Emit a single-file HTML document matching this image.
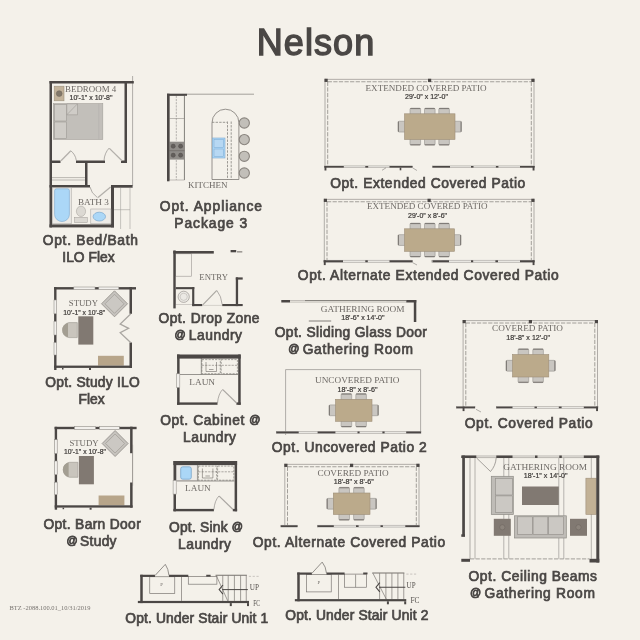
<!DOCTYPE html>
<html lang="en">
<head>
<meta charset="utf-8">
<title>Nelson</title>
<style>
html,body{margin:0;padding:0;}
body{width:640px;height:640px;overflow:hidden;background:#f4f1ea;position:relative;font-family:"Liberation Sans",sans-serif;}
#sheet{position:absolute;left:0;top:0;width:640px;height:640px;will-change:transform;}
#plans{position:absolute;left:0;top:0;width:640px;height:640px;}
.at{font-size:11px;line-height:0;vertical-align:2px;margin-right:-2px;}
.lb{position:absolute;white-space:nowrap;font-weight:normal;-webkit-text-stroke:0.7px currentColor;color:#4a4745;font-family:"Liberation Sans",sans-serif;}
.lb.ttl{-webkit-text-stroke:1.4px currentColor;}
.at{-webkit-text-stroke:0.8px currentColor;}
</style>
</head>
<body>
<div id="sheet">
<svg id="plans" width="640" height="640" viewBox="0 0 640 640">
<line x1="132.60" y1="76.00" x2="132.60" y2="186.00" stroke="#827e7a" stroke-width="0.6"/>
<line x1="114.00" y1="187.50" x2="132.60" y2="187.50" stroke="#827e7a" stroke-width="0.6"/>
<line x1="120.60" y1="188.00" x2="120.60" y2="229.00" stroke="#a5a19d" stroke-width="0.6"/>
<line x1="130.00" y1="188.00" x2="130.00" y2="229.00" stroke="#a5a19d" stroke-width="0.6"/>
<line x1="114.00" y1="209.70" x2="130.00" y2="209.70" stroke="#a5a19d" stroke-width="0.6"/>
<line x1="52.00" y1="177.60" x2="85.00" y2="177.60" stroke="#827e7a" stroke-width="0.5"/>
<line x1="52.00" y1="180.00" x2="85.00" y2="180.00" stroke="#827e7a" stroke-width="0.5"/>
<rect x="54.20" y="86.20" width="9.80" height="14.60" fill="#c3b39b" stroke="#9c8f7c" stroke-width="0.6" />
<circle cx="59.20" cy="93.60" r="2.90" fill="#82786a" stroke="#6e665a" stroke-width="0.5"/>
<rect x="53.30" y="103.60" width="49.50" height="35.90" fill="#c2bfba" stroke="#a3a09b" stroke-width="0.6" />
<rect x="54.60" y="104.60" width="11.70" height="16.40" fill="#cfccc7" stroke="#9d9a95" stroke-width="0.6" />
<rect x="54.60" y="122.00" width="11.70" height="16.50" fill="#cfccc7" stroke="#9d9a95" stroke-width="0.6" />
<path d="M66.8 103.8 L77.5 103.8 L77.5 114.8 L66.8 114.8 Z" fill="#cfccc7" stroke="#9d9a95" stroke-width="0.6" />
<line x1="66.80" y1="114.80" x2="77.50" y2="103.80" stroke="#9d9a95" stroke-width="0.6"/>
<line x1="98.80" y1="103.60" x2="98.80" y2="139.50" stroke="#b0ada8" stroke-width="0.5"/>
<rect x="49.50" y="81.00" width="84.30" height="2.50" fill="#4b4745" />
<rect x="49.50" y="81.00" width="2.50" height="146.40" fill="#4b4745" />
<rect x="124.50" y="81.00" width="2.50" height="82.00" fill="#4b4745" />
<rect x="52.00" y="160.50" width="8.50" height="2.50" fill="#4b4745" />
<rect x="76.00" y="160.50" width="29.00" height="2.50" fill="#4b4745" />
<rect x="121.00" y="160.50" width="6.00" height="2.50" fill="#4b4745" />
<rect x="85.00" y="161.50" width="2.50" height="24.50" fill="#4b4745" />
<rect x="49.50" y="185.00" width="40.50" height="2.50" fill="#4b4745" />
<rect x="111.00" y="185.00" width="21.60" height="2.50" fill="#4b4745" />
<rect x="111.00" y="185.00" width="3.00" height="42.40" fill="#4b4745" />
<rect x="49.50" y="224.40" width="64.50" height="3.00" fill="#4b4745" />
<line x1="61.00" y1="160.80" x2="70.60" y2="151.00" stroke="#b3b0ab" stroke-width="1.3"/>
<path d="M70.6 150.6 Q75.5 154.5 76.3 160.5" fill="none" stroke="#827e7a" stroke-width="0.6" />
<line x1="122.00" y1="160.80" x2="109.40" y2="148.40" stroke="#b3b0ab" stroke-width="1.3"/>
<path d="M109.2 148 Q104.5 153 104 160.5" fill="none" stroke="#827e7a" stroke-width="0.6" />
<line x1="110.60" y1="187.00" x2="98.00" y2="197.40" stroke="#b3b0ab" stroke-width="1.3"/>
<path d="M97.5 197.7 Q91 193 90 187" fill="none" stroke="#827e7a" stroke-width="0.6" />
<rect x="52.60" y="187.80" width="18.60" height="36.00" fill="#eceae6" stroke="#a09c97" stroke-width="0.5" />
<path d="M54.6 190.6 Q54.6 188.8 56.4 188.8 L67.6 188.8 Q69.4 188.8 69.4 190.6 L69.4 214.5 A7.4 7 0 0 1 54.6 214.5 Z" fill="#abd7f7" stroke="#7aa7cf" stroke-width="0.6" />
<rect x="74.60" y="217.30" width="12.70" height="5.30" fill="#dcd9d3" stroke="#a09c97" stroke-width="0.5" />
<ellipse cx="81.00" cy="211.30" rx="4.60" ry="5.20" fill="#dcd9d3" stroke="#a09c97" stroke-width="0.5"/>
<rect x="90.80" y="209.00" width="20.20" height="14.80" fill="#eceae6" stroke="#a09c97" stroke-width="0.5" />
<ellipse cx="99.30" cy="216.60" rx="6.20" ry="4.40" fill="#abd7f7" stroke="#7aa7cf" stroke-width="0.7"/>
<text x="65.00" y="92.40" font-family="'Liberation Serif',serif" font-size="9" fill="#6d6965" textLength="51.30" lengthAdjust="spacingAndGlyphs">BEDROOM 4</text>
<text x="69.50" y="100.40" font-family="'Liberation Sans',sans-serif" font-size="7.0" fill="#3d3a38" stroke="#3d3a38" stroke-width="0.22" textLength="43.00" lengthAdjust="spacingAndGlyphs">10'-1" x 10'-8"</text>
<text x="78.00" y="205.40" font-family="'Liberation Serif',serif" font-size="9" fill="#6d6965" textLength="30.80" lengthAdjust="spacingAndGlyphs">BATH 3</text>
<line x1="187.00" y1="94.20" x2="254.00" y2="94.20" stroke="#827e7a" stroke-width="0.7"/>
<rect x="169.50" y="95.70" width="15.00" height="84.30" fill="none" stroke="#8c8884" stroke-width="0.5" />
<line x1="184.40" y1="95.70" x2="184.40" y2="180.00" stroke="#6f6b67" stroke-width="0.7"/>
<line x1="176.30" y1="95.70" x2="176.30" y2="141.00" stroke="#8c8884" stroke-width="0.6" stroke-dasharray="2.2 1"/>
<line x1="169.50" y1="118.50" x2="184.50" y2="118.50" stroke="#827e7a" stroke-width="0.5"/>
<line x1="176.30" y1="160.00" x2="176.30" y2="180.00" stroke="#8c8884" stroke-width="0.6" stroke-dasharray="2.2 1"/>
<rect x="169.50" y="141.70" width="15.00" height="17.90" fill="#8f8c88" />
<circle cx="173.20" cy="146.20" r="2.10" fill="#625e5b" stroke="#4b4745" stroke-width="0.4"/>
<circle cx="180.60" cy="146.20" r="2.10" fill="#625e5b" stroke="#4b4745" stroke-width="0.4"/>
<circle cx="173.20" cy="155.20" r="2.10" fill="#625e5b" stroke="#4b4745" stroke-width="0.4"/>
<circle cx="180.60" cy="155.20" r="2.10" fill="#625e5b" stroke="#4b4745" stroke-width="0.4"/>
<line x1="169.50" y1="150.70" x2="184.50" y2="150.70" stroke="#5e5a57" stroke-width="0.5"/>
<rect x="167.00" y="93.70" width="20.00" height="2.10" fill="#4b4745" />
<rect x="167.00" y="93.70" width="2.50" height="87.60" fill="#4b4745" />
<path d="M212 179.5 L212 122.8 A13.45 13.6 0 0 1 238.9 122.8 L238.9 179.5 Z" fill="none" stroke="#75716d" stroke-width="0.75" />
<line x1="212.00" y1="122.30" x2="227.00" y2="122.30" stroke="#76726e" stroke-width="0.7" stroke-dasharray="2.4 1.2"/>
<line x1="227.50" y1="121.50" x2="227.50" y2="179.50" stroke="#76726e" stroke-width="0.7" stroke-dasharray="2.4 1.2"/>
<line x1="231.20" y1="121.50" x2="231.20" y2="179.50" stroke="#76726e" stroke-width="0.7" stroke-dasharray="2.4 1.2"/>
<rect x="212.40" y="138.00" width="12.60" height="20.00" fill="#abd7f7" stroke="#7fa9cf" stroke-width="0.6" />
<rect x="214.00" y="139.70" width="9.30" height="7.60" fill="#b7d8f3" stroke="#7fa9cf" stroke-width="0.5" />
<rect x="214.00" y="149.00" width="9.30" height="7.50" fill="#b7d8f3" stroke="#7fa9cf" stroke-width="0.5" />
<circle cx="244.30" cy="123.00" r="5.10" fill="#c2bfb9" stroke="#8a857f" stroke-width="1.1"/>
<circle cx="244.30" cy="139.60" r="5.10" fill="#c2bfb9" stroke="#8a857f" stroke-width="1.1"/>
<circle cx="244.30" cy="156.30" r="5.10" fill="#c2bfb9" stroke="#8a857f" stroke-width="1.1"/>
<circle cx="244.30" cy="173.00" r="5.10" fill="#c2bfb9" stroke="#8a857f" stroke-width="1.1"/>
<text x="188.00" y="187.80" font-family="'Liberation Serif',serif" font-size="8.6" fill="#6d6965" textLength="39.60" lengthAdjust="spacingAndGlyphs">KITCHEN</text>
<path d="M114.5 290.8 L127.5 303.8 L114.5 316.8 L101.5 303.8 Z" fill="#c6c3be" stroke="#8f8c87" stroke-width="0.8" />
<path d="M114.5 294.3 L124.0 303.8 L114.5 313.3 L105.0 303.8 Z" fill="#cbc8c3" stroke="#98958f" stroke-width="0.6" />
<rect x="78.30" y="316.30" width="15.00" height="28.30" fill="#817972" />
<path d="M77.3 322.6 L69 322.6 A7.6 7.6 0 0 0 69 337.6 L77.3 337.6 Z" fill="#c9c5bd" stroke="#9b9790" stroke-width="0.6" />
<path d="M68 322.9 A7.4 7.4 0 0 0 68 337.3 Z" fill="#a39e92" stroke="none" stroke-width="0" />
<rect x="98.00" y="355.80" width="25.80" height="9.80" fill="#b7a58a" />
<rect x="54.00" y="287.10" width="82.00" height="2.40" fill="#4b4745" />
<rect x="54.10" y="287.10" width="2.40" height="82.90" fill="#4b4745" />
<rect x="54.10" y="365.60" width="77.90" height="2.30" fill="#4b4745" />
<rect x="89.00" y="368.00" width="2.00" height="2.00" fill="#4b4745" />
<rect x="62.00" y="368.00" width="1.50" height="1.50" fill="#4b4745" />
<rect x="73.80" y="286.60" width="21.20" height="3.30" fill="#f2f0ec" />
<rect x="73.80" y="287.00" width="21.20" height="2.60" fill="none" stroke="#8f8c87" stroke-width="0.55" />
<rect x="98.80" y="286.60" width="20.00" height="3.30" fill="#f2f0ec" />
<rect x="98.80" y="287.00" width="20.00" height="2.60" fill="none" stroke="#8f8c87" stroke-width="0.55" />
<rect x="53.70" y="300.00" width="3.20" height="13.80" fill="#f2f0ec" />
<rect x="54.00" y="300.00" width="2.60" height="13.80" fill="none" stroke="#8f8c87" stroke-width="0.55" />
<rect x="53.70" y="321.30" width="3.20" height="13.70" fill="#f2f0ec" />
<rect x="54.00" y="321.30" width="2.60" height="13.70" fill="none" stroke="#8f8c87" stroke-width="0.55" />
<rect x="53.70" y="342.50" width="3.20" height="12.50" fill="#f2f0ec" />
<rect x="54.00" y="342.50" width="2.60" height="12.50" fill="none" stroke="#8f8c87" stroke-width="0.55" />
<rect x="129.50" y="287.00" width="2.50" height="26.80" fill="#4b4745" />
<rect x="129.50" y="342.50" width="2.50" height="25.50" fill="#4b4745" />
<path d="M130.6 314 L120.2 324 L128.6 328.3 L120.2 332.6 L130.6 342.5" fill="none" stroke="#a9a6a1" stroke-width="1.3" stroke-linejoin="miter"/>
<text x="68.80" y="306.30" font-family="'Liberation Serif',serif" font-size="9" fill="#6d6965" textLength="29.20" lengthAdjust="spacingAndGlyphs">STUDY</text>
<text x="63.30" y="314.70" font-family="'Liberation Sans',sans-serif" font-size="7.0" fill="#3d3a38" stroke="#3d3a38" stroke-width="0.22" textLength="42.00" lengthAdjust="spacingAndGlyphs">10'-1" x 10'-8"</text>
<path d="M115.1 430.5 L128.1 443.5 L115.1 456.5 L102.1 443.5 Z" fill="#c6c3be" stroke="#8f8c87" stroke-width="0.8" />
<path d="M115.1 434.0 L124.6 443.5 L115.1 453.0 L105.6 443.5 Z" fill="#cbc8c3" stroke="#98958f" stroke-width="0.6" />
<rect x="78.90" y="456.00" width="15.00" height="28.30" fill="#817972" />
<path d="M77.89999999999999 462.3 L69.6 462.3 A7.6 7.6 0 0 0 69.6 477.3 L77.89999999999999 477.3 Z" fill="#c9c5bd" stroke="#9b9790" stroke-width="0.6" />
<path d="M68.6 462.59999999999997 A7.4 7.4 0 0 0 68.6 477.0 Z" fill="#a39e92" stroke="none" stroke-width="0" />
<rect x="98.60" y="495.50" width="25.80" height="9.80" fill="#b7a58a" />
<rect x="54.60" y="426.80" width="82.00" height="2.40" fill="#4b4745" />
<rect x="54.70" y="426.80" width="2.40" height="82.90" fill="#4b4745" />
<rect x="54.70" y="505.30" width="77.90" height="2.30" fill="#4b4745" />
<rect x="89.60" y="507.70" width="2.00" height="2.00" fill="#4b4745" />
<rect x="62.60" y="507.70" width="1.50" height="1.50" fill="#4b4745" />
<rect x="74.40" y="426.30" width="21.20" height="3.30" fill="#f2f0ec" />
<rect x="74.40" y="426.70" width="21.20" height="2.60" fill="none" stroke="#8f8c87" stroke-width="0.55" />
<rect x="99.40" y="426.30" width="20.00" height="3.30" fill="#f2f0ec" />
<rect x="99.40" y="426.70" width="20.00" height="2.60" fill="none" stroke="#8f8c87" stroke-width="0.55" />
<rect x="54.30" y="439.70" width="3.20" height="13.80" fill="#f2f0ec" />
<rect x="54.60" y="439.70" width="2.60" height="13.80" fill="none" stroke="#8f8c87" stroke-width="0.55" />
<rect x="54.30" y="461.00" width="3.20" height="13.70" fill="#f2f0ec" />
<rect x="54.60" y="461.00" width="2.60" height="13.70" fill="none" stroke="#8f8c87" stroke-width="0.55" />
<rect x="54.30" y="482.20" width="3.20" height="12.50" fill="#f2f0ec" />
<rect x="54.60" y="482.20" width="2.60" height="12.50" fill="none" stroke="#8f8c87" stroke-width="0.55" />
<rect x="130.10" y="426.70" width="2.50" height="26.50" fill="#4b4745" />
<rect x="130.10" y="482.50" width="2.50" height="25.20" fill="#4b4745" />
<line x1="132.60" y1="444.70" x2="132.60" y2="485.70" stroke="#827e7a" stroke-width="0.8"/>
<text x="69.40" y="446.00" font-family="'Liberation Serif',serif" font-size="9" fill="#6d6965" textLength="29.20" lengthAdjust="spacingAndGlyphs">STUDY</text>
<text x="63.90" y="454.40" font-family="'Liberation Sans',sans-serif" font-size="7.0" fill="#3d3a38" stroke="#3d3a38" stroke-width="0.22" textLength="42.00" lengthAdjust="spacingAndGlyphs">10'-1" x 10'-8"</text>
<rect x="175.70" y="253.80" width="15.90" height="22.40" fill="none" stroke="#9a9692" stroke-width="0.6" />
<rect x="175.70" y="289.00" width="16.80" height="15.60" fill="none" stroke="#a9a6a1" stroke-width="0.5" />
<circle cx="183.70" cy="296.80" r="5.60" fill="#ebe9e4" stroke="#8b8783" stroke-width="0.6"/>
<circle cx="183.70" cy="296.80" r="3.60" fill="none" stroke="#a9a6a1" stroke-width="0.45"/>
<rect x="173.30" y="250.40" width="2.40" height="58.00" fill="#4b4745" />
<rect x="173.30" y="251.00" width="40.50" height="2.60" fill="#4b4745" />
<rect x="230.60" y="250.00" width="5.60" height="2.30" fill="#4b4745" />
<rect x="237.00" y="251.20" width="5.30" height="1.30" fill="#8a8682" />
<rect x="235.80" y="277.40" width="2.30" height="28.70" fill="#4b4745" />
<rect x="235.80" y="277.40" width="6.90" height="2.20" fill="#4b4745" />
<rect x="192.20" y="304.00" width="10.10" height="2.10" fill="#4b4745" />
<rect x="222.20" y="304.00" width="20.50" height="2.10" fill="#4b4745" />
<rect x="175.70" y="287.10" width="18.60" height="2.00" fill="#4b4745" />
<rect x="192.20" y="287.10" width="2.10" height="19.00" fill="#4b4745" />
<line x1="203.00" y1="304.60" x2="216.60" y2="290.60" stroke="#aaa7a2" stroke-width="1.2"/>
<path d="M216.8 290.4 Q221.4 296 222.2 304.6" fill="none" stroke="#827e7a" stroke-width="0.6" />
<line x1="202.50" y1="305.40" x2="222.20" y2="305.40" stroke="#b5b2ad" stroke-width="0.5"/>
<text x="199.30" y="280.00" font-family="'Liberation Serif',serif" font-size="8.6" fill="#6d6965" textLength="28.70" lengthAdjust="spacingAndGlyphs">ENTRY</text>
<line x1="180.00" y1="374.50" x2="238.00" y2="374.50" stroke="#6f6b67" stroke-width="0.7"/>
<line x1="201.30" y1="358.00" x2="201.30" y2="374.50" stroke="#6f6b67" stroke-width="0.7"/>
<rect x="201.90" y="359.60" width="18.40" height="14.10" fill="none" stroke="#6f6b67" stroke-width="0.6" stroke-dasharray="2.2 1.1"/>
<rect x="221.20" y="359.60" width="16.20" height="14.10" fill="none" stroke="#6f6b67" stroke-width="0.6" stroke-dasharray="2.2 1.1"/>
<line x1="201.90" y1="365.30" x2="237.40" y2="365.30" stroke="#6f6b67" stroke-width="0.55" stroke-dasharray="2.2 1.1"/>
<path d="M206 362 L206 371.5 L216.5 371.5 L216.5 362" fill="none" stroke="#6f6b67" stroke-width="0.6" />
<path d="M209 369.5 L213.5 369.5" fill="none" stroke="#6f6b67" stroke-width="0.6" />
<rect x="177.00" y="354.50" width="63.70" height="4.10" fill="#4b4745" />
<rect x="177.10" y="354.50" width="2.50" height="50.30" fill="#4b4745" />
<rect x="238.20" y="354.50" width="2.50" height="50.30" fill="#4b4745" />
<rect x="177.00" y="402.40" width="40.50" height="2.40" fill="#4b4745" />
<rect x="236.40" y="402.40" width="4.30" height="2.40" fill="#4b4745" />
<rect x="176.40" y="373.80" width="3.60" height="13.80" fill="#f2f0ec" />
<rect x="176.70" y="373.80" width="3.10" height="13.80" fill="none" stroke="#8f8c87" stroke-width="0.55" />
<line x1="222.80" y1="389.60" x2="236.60" y2="403.00" stroke="#aaa7a2" stroke-width="1.2"/>
<path d="M217.5 403 Q218.3 394 222.6 389.4" fill="none" stroke="#827e7a" stroke-width="0.6" />
<text x="189.30" y="384.50" font-family="'Liberation Serif',serif" font-size="9" fill="#6d6965" textLength="25.70" lengthAdjust="spacingAndGlyphs">LAUN</text>
<line x1="176.40" y1="481.00" x2="234.40" y2="481.00" stroke="#6f6b67" stroke-width="0.7"/>
<line x1="197.70" y1="464.50" x2="197.70" y2="481.00" stroke="#6f6b67" stroke-width="0.7"/>
<rect x="198.30" y="466.10" width="18.40" height="14.10" fill="none" stroke="#6f6b67" stroke-width="0.6" stroke-dasharray="2.2 1.1"/>
<rect x="217.60" y="466.10" width="16.20" height="14.10" fill="none" stroke="#6f6b67" stroke-width="0.6" stroke-dasharray="2.2 1.1"/>
<line x1="198.30" y1="471.80" x2="233.80" y2="471.80" stroke="#6f6b67" stroke-width="0.55" stroke-dasharray="2.2 1.1"/>
<path d="M202.4 468.5 L202.4 478.0 L212.9 478.0 L212.9 468.5" fill="none" stroke="#6f6b67" stroke-width="0.6" />
<path d="M205.4 476.0 L209.9 476.0" fill="none" stroke="#6f6b67" stroke-width="0.6" />
<rect x="176.70" y="464.80" width="20.50" height="15.70" fill="#eceae6" stroke="#8b8783" stroke-width="0.5" />
<rect x="180.70" y="466.80" width="10.6" height="12.4" rx="2" ry="2" fill="#abd7f7" stroke="#6f9dc6" stroke-width="0.7"/>
<rect x="173.40" y="461.00" width="63.70" height="4.10" fill="#4b4745" />
<rect x="173.50" y="461.00" width="2.50" height="50.30" fill="#4b4745" />
<rect x="234.60" y="461.00" width="2.50" height="50.30" fill="#4b4745" />
<rect x="173.40" y="508.90" width="40.50" height="2.40" fill="#4b4745" />
<rect x="232.80" y="508.90" width="4.30" height="2.40" fill="#4b4745" />
<rect x="172.80" y="480.30" width="3.60" height="13.80" fill="#f2f0ec" />
<rect x="173.10" y="480.30" width="3.10" height="13.80" fill="none" stroke="#8f8c87" stroke-width="0.55" />
<line x1="219.20" y1="496.10" x2="233.00" y2="509.50" stroke="#aaa7a2" stroke-width="1.2"/>
<path d="M213.9 509.5 Q214.70000000000002 500.5 219.0 495.9" fill="none" stroke="#827e7a" stroke-width="0.6" />
<text x="185.10" y="491.00" font-family="'Liberation Serif',serif" font-size="9" fill="#6d6965" textLength="25.70" lengthAdjust="spacingAndGlyphs">LAUN</text>
<rect x="149.75" y="576.75" width="25.00" height="16.75" fill="none" stroke="#7b7773" stroke-width="0.7" />
<line x1="181.50" y1="576.75" x2="181.50" y2="600.90" stroke="#7b7773" stroke-width="0.7"/>
<rect x="188.30" y="576.35" width="28.60" height="7.85" fill="none" stroke="#7b7773" stroke-width="0.7" />
<line x1="215.60" y1="575.25" x2="246.85" y2="575.25" stroke="#66625f" stroke-width="0.9"/>
<line x1="216.20" y1="575.35" x2="227.75" y2="600.90" stroke="#7b7773" stroke-width="0.7"/>
<line x1="222.75" y1="575.35" x2="222.75" y2="600.90" stroke="#7b7773" stroke-width="0.7"/>
<line x1="228.20" y1="575.35" x2="228.20" y2="600.90" stroke="#7b7773" stroke-width="0.7"/>
<line x1="234.40" y1="575.35" x2="234.40" y2="600.90" stroke="#7b7773" stroke-width="0.7"/>
<line x1="240.60" y1="575.35" x2="240.60" y2="600.90" stroke="#7b7773" stroke-width="0.7"/>
<line x1="246.25" y1="575.35" x2="246.25" y2="600.90" stroke="#7b7773" stroke-width="0.7"/>
<line x1="222.15" y1="589.60" x2="247.85" y2="589.60" stroke="#4b4745" stroke-width="1.0"/>
<path d="M222.95 585.0 L219.15 589.6 L222.95 594.2" fill="none" stroke="#4b4745" stroke-width="1.1" />
<line x1="248.85" y1="576.35" x2="259.25" y2="576.35" stroke="#9b9793" stroke-width="0.5" stroke-dasharray="2.2 1.6"/>
<rect x="140.25" y="574.75" width="2.50" height="28.35" fill="#4b4745" />
<rect x="140.25" y="574.75" width="14.75" height="2.20" fill="#4b4745" />
<rect x="169.00" y="574.75" width="19.30" height="2.20" fill="#4b4745" />
<rect x="206.25" y="574.75" width="4.35" height="1.90" fill="#4b4745" />
<rect x="137.85" y="600.90" width="111.15" height="2.20" fill="#4b4745" />
<rect x="229.80" y="603.10" width="2.00" height="3.00" fill="#4b4745" />
<rect x="247.00" y="603.10" width="2.00" height="3.00" fill="#4b4745" />
<path d="M155 575.55 L165.3 564.35 Q168.4 568.75 169 575.55" fill="none" stroke="#7b7773" stroke-width="0.8" />
<text x="161.60" y="585.60" font-family="'Liberation Serif',serif" font-size="5" fill="#6d6965" text-anchor="middle">P</text>
<text x="249.80" y="590.00" font-family="'Liberation Serif',serif" font-size="7.6" fill="#55514e" textLength="9.20" lengthAdjust="spacingAndGlyphs">UP</text>
<text x="253.20" y="605.60" font-family="'Liberation Serif',serif" font-size="7.6" fill="#55514e" textLength="6.80" lengthAdjust="spacingAndGlyphs">FC</text>
<rect x="306.60" y="574.50" width="24.65" height="17.40" fill="none" stroke="#7b7773" stroke-width="0.7" />
<line x1="338.50" y1="574.50" x2="338.50" y2="599.10" stroke="#7b7773" stroke-width="0.7"/>
<rect x="344.60" y="574.10" width="22.00" height="13.15" fill="none" stroke="#7b7773" stroke-width="0.7" />
<line x1="355.60" y1="574.50" x2="355.60" y2="587.25" stroke="#7b7773" stroke-width="0.7"/>
<line x1="372.25" y1="573.00" x2="404.35" y2="573.00" stroke="#66625f" stroke-width="0.9"/>
<line x1="372.85" y1="573.10" x2="386.25" y2="599.10" stroke="#7b7773" stroke-width="0.7"/>
<line x1="379.60" y1="573.10" x2="379.60" y2="599.10" stroke="#7b7773" stroke-width="0.7"/>
<line x1="385.90" y1="573.10" x2="385.90" y2="599.10" stroke="#7b7773" stroke-width="0.7"/>
<line x1="391.90" y1="573.10" x2="391.90" y2="599.10" stroke="#7b7773" stroke-width="0.7"/>
<line x1="397.90" y1="573.10" x2="397.90" y2="599.10" stroke="#7b7773" stroke-width="0.7"/>
<line x1="403.75" y1="573.10" x2="403.75" y2="599.10" stroke="#7b7773" stroke-width="0.7"/>
<line x1="379.00" y1="587.25" x2="405.35" y2="587.25" stroke="#4b4745" stroke-width="1.0"/>
<path d="M379.8 582.65 L376.0 587.25 L379.8 591.85" fill="none" stroke="#4b4745" stroke-width="1.1" />
<line x1="406.35" y1="574.10" x2="416.75" y2="574.10" stroke="#9b9793" stroke-width="0.5" stroke-dasharray="2.2 1.6"/>
<rect x="297.25" y="572.50" width="2.50" height="28.80" fill="#4b4745" />
<rect x="297.25" y="572.50" width="14.65" height="2.20" fill="#4b4745" />
<rect x="326.50" y="572.50" width="18.10" height="2.20" fill="#4b4745" />
<rect x="363.20" y="572.50" width="4.30" height="1.90" fill="#4b4745" />
<rect x="294.85" y="599.10" width="111.40" height="2.20" fill="#4b4745" />
<rect x="386.90" y="601.30" width="2.00" height="3.00" fill="#4b4745" />
<rect x="404.20" y="601.30" width="2.00" height="3.00" fill="#4b4745" />
<path d="M311.9 573.3 L322.2 562.1 Q325.9 566.5 326.5 573.3" fill="none" stroke="#7b7773" stroke-width="0.8" />
<text x="319.00" y="584.20" font-family="'Liberation Serif',serif" font-size="5" fill="#6d6965" text-anchor="middle">P</text>
<text x="406.60" y="587.80" font-family="'Liberation Serif',serif" font-size="7.6" fill="#55514e" textLength="9.00" lengthAdjust="spacingAndGlyphs">UP</text>
<text x="410.40" y="603.10" font-family="'Liberation Serif',serif" font-size="7.6" fill="#55514e" textLength="9.00" lengthAdjust="spacingAndGlyphs">FC</text>
<line x1="325.00" y1="79.35" x2="534.00" y2="79.35" stroke="#827e7a" stroke-width="0.6"/>
<line x1="325.00" y1="78.75" x2="325.00" y2="166.00" stroke="#827e7a" stroke-width="0.6"/>
<line x1="534.00" y1="78.75" x2="534.00" y2="166.00" stroke="#827e7a" stroke-width="0.6"/>
<line x1="327.70" y1="81.75" x2="531.30" y2="81.75" stroke="#76726e" stroke-width="0.65" stroke-dasharray="4.2 1.4"/>
<line x1="327.70" y1="81.75" x2="327.70" y2="166.00" stroke="#76726e" stroke-width="0.65" stroke-dasharray="4.2 1.4"/>
<line x1="531.30" y1="81.75" x2="531.30" y2="166.00" stroke="#76726e" stroke-width="0.65" stroke-dasharray="4.2 1.4"/>
<rect x="324.50" y="78.75" width="3.20" height="3.20" fill="#4b4745" />
<rect x="428.00" y="78.75" width="3.20" height="3.20" fill="#4b4745" />
<rect x="531.30" y="78.75" width="3.20" height="3.20" fill="#4b4745" />
<rect x="324.50" y="165.90" width="88.00" height="1.80" fill="#e9e7e2" stroke="#9c9894" stroke-width="0.5" />
<rect x="432.30" y="165.90" width="102.20" height="1.80" fill="#e9e7e2" stroke="#9c9894" stroke-width="0.5" />
<rect x="324.50" y="166.00" width="19.30" height="1.60" fill="#4b4745" />
<rect x="389.50" y="166.00" width="23.00" height="1.60" fill="#4b4745" />
<rect x="432.50" y="166.00" width="17.50" height="1.60" fill="#4b4745" />
<rect x="520.00" y="166.00" width="14.50" height="1.60" fill="#4b4745" />
<rect x="365.30" y="166.00" width="2.90" height="1.60" fill="#4b4745" />
<rect x="471.00" y="166.00" width="2.50" height="1.60" fill="#4b4745" />
<rect x="495.90" y="166.00" width="2.50" height="1.60" fill="#4b4745" />
<rect x="324.50" y="166.00" width="1.90" height="4.50" fill="#4b4745" />
<rect x="532.60" y="166.00" width="1.90" height="4.50" fill="#4b4745" />
<rect x="399.70" y="167.60" width="1.60" height="2.70" fill="#4b4745" />
<line x1="382.00" y1="170.30" x2="386.00" y2="167.80" stroke="#827e7a" stroke-width="0.6"/>
<line x1="412.50" y1="167.80" x2="417.00" y2="170.50" stroke="#827e7a" stroke-width="0.6"/>
<rect x="410.00" y="108.20" width="10.6" height="8" rx="1.2" fill="#c9c6c1" stroke="#96938e" stroke-width="0.6"/>
<rect x="410.30" y="108.00" width="10.00" height="1.10" fill="#807c78" />
<rect x="410.00" y="137.10" width="10.6" height="8" rx="1.2" fill="#c9c6c1" stroke="#96938e" stroke-width="0.6"/>
<rect x="410.30" y="144.20" width="10.00" height="1.10" fill="#807c78" />
<rect x="424.50" y="108.20" width="10.6" height="8" rx="1.2" fill="#c9c6c1" stroke="#96938e" stroke-width="0.6"/>
<rect x="424.80" y="108.00" width="10.00" height="1.10" fill="#807c78" />
<rect x="424.50" y="137.10" width="10.6" height="8" rx="1.2" fill="#c9c6c1" stroke="#96938e" stroke-width="0.6"/>
<rect x="424.80" y="144.20" width="10.00" height="1.10" fill="#807c78" />
<rect x="438.80" y="108.20" width="10.6" height="8" rx="1.2" fill="#c9c6c1" stroke="#96938e" stroke-width="0.6"/>
<rect x="439.10" y="108.00" width="10.00" height="1.10" fill="#807c78" />
<rect x="438.80" y="137.10" width="10.6" height="8" rx="1.2" fill="#c9c6c1" stroke="#96938e" stroke-width="0.6"/>
<rect x="439.10" y="144.20" width="10.00" height="1.10" fill="#807c78" />
<rect x="398.10" y="121.25" width="8" height="10.8" rx="1.2" fill="#c9c6c1" stroke="#96938e" stroke-width="0.6"/>
<rect x="397.90" y="121.55" width="1.10" height="10.20" fill="#807c78" />
<rect x="453.40" y="121.25" width="8" height="10.8" rx="1.2" fill="#c9c6c1" stroke="#96938e" stroke-width="0.6"/>
<rect x="460.50" y="121.55" width="1.10" height="10.20" fill="#807c78" />
<rect x="404.50" y="113.80" width="50.50" height="25.70" fill="#bbaa8b" stroke="#9d8e78" stroke-width="0.6"/>
<text x="365.50" y="91.00" font-family="'Liberation Serif',serif" font-size="9" fill="#6d6965" textLength="121.00" lengthAdjust="spacingAndGlyphs">EXTENDED COVERED PATIO</text>
<text x="405.00" y="99.20" font-family="'Liberation Sans',sans-serif" font-size="7.0" fill="#3d3a38" stroke="#3d3a38" stroke-width="0.22" textLength="43.00" lengthAdjust="spacingAndGlyphs">29'-0" x 12'-0"</text>
<line x1="324.30" y1="199.35" x2="534.00" y2="199.35" stroke="#827e7a" stroke-width="0.6"/>
<line x1="324.30" y1="198.75" x2="324.30" y2="260.30" stroke="#827e7a" stroke-width="0.6"/>
<line x1="534.00" y1="198.75" x2="534.00" y2="260.30" stroke="#827e7a" stroke-width="0.6"/>
<line x1="327.00" y1="201.75" x2="531.30" y2="201.75" stroke="#76726e" stroke-width="0.65" stroke-dasharray="4.2 1.4"/>
<line x1="327.00" y1="201.75" x2="327.00" y2="260.30" stroke="#76726e" stroke-width="0.65" stroke-dasharray="4.2 1.4"/>
<line x1="531.30" y1="201.75" x2="531.30" y2="260.30" stroke="#76726e" stroke-width="0.65" stroke-dasharray="4.2 1.4"/>
<rect x="323.80" y="198.75" width="3.20" height="3.20" fill="#4b4745" />
<rect x="427.50" y="198.75" width="3.20" height="3.20" fill="#4b4745" />
<rect x="531.30" y="198.75" width="3.20" height="3.20" fill="#4b4745" />
<rect x="323.80" y="260.20" width="88.70" height="2.10" fill="#e9e7e2" stroke="#9c9894" stroke-width="0.5" />
<rect x="431.80" y="260.20" width="102.70" height="2.10" fill="#e9e7e2" stroke="#9c9894" stroke-width="0.5" />
<rect x="323.80" y="260.30" width="19.20" height="1.90" fill="#4b4745" />
<rect x="389.50" y="260.30" width="23.00" height="1.90" fill="#4b4745" />
<rect x="432.50" y="260.30" width="16.50" height="1.90" fill="#4b4745" />
<rect x="520.00" y="260.30" width="14.50" height="1.90" fill="#4b4745" />
<rect x="365.30" y="260.30" width="2.50" height="1.90" fill="#4b4745" />
<rect x="471.00" y="260.30" width="2.20" height="1.90" fill="#4b4745" />
<rect x="495.40" y="260.30" width="2.60" height="1.90" fill="#4b4745" />
<rect x="323.80" y="260.30" width="1.90" height="4.80" fill="#4b4745" />
<rect x="532.60" y="260.30" width="1.90" height="4.80" fill="#4b4745" />
<line x1="412.50" y1="262.60" x2="417.00" y2="265.00" stroke="#827e7a" stroke-width="0.6"/>
<rect x="410.00" y="223.20" width="10.6" height="8" rx="1.2" fill="#c9c6c1" stroke="#96938e" stroke-width="0.6"/>
<rect x="410.30" y="223.00" width="10.00" height="1.10" fill="#807c78" />
<rect x="410.00" y="248.90" width="10.6" height="8" rx="1.2" fill="#c9c6c1" stroke="#96938e" stroke-width="0.6"/>
<rect x="410.30" y="256.00" width="10.00" height="1.10" fill="#807c78" />
<rect x="424.50" y="223.20" width="10.6" height="8" rx="1.2" fill="#c9c6c1" stroke="#96938e" stroke-width="0.6"/>
<rect x="424.80" y="223.00" width="10.00" height="1.10" fill="#807c78" />
<rect x="424.50" y="248.90" width="10.6" height="8" rx="1.2" fill="#c9c6c1" stroke="#96938e" stroke-width="0.6"/>
<rect x="424.80" y="256.00" width="10.00" height="1.10" fill="#807c78" />
<rect x="438.80" y="223.20" width="10.6" height="8" rx="1.2" fill="#c9c6c1" stroke="#96938e" stroke-width="0.6"/>
<rect x="439.10" y="223.00" width="10.00" height="1.10" fill="#807c78" />
<rect x="438.80" y="248.90" width="10.6" height="8" rx="1.2" fill="#c9c6c1" stroke="#96938e" stroke-width="0.6"/>
<rect x="439.10" y="256.00" width="10.00" height="1.10" fill="#807c78" />
<rect x="398.10" y="234.65" width="8" height="10.8" rx="1.2" fill="#c9c6c1" stroke="#96938e" stroke-width="0.6"/>
<rect x="397.90" y="234.95" width="1.10" height="10.20" fill="#807c78" />
<rect x="452.90" y="234.65" width="8" height="10.8" rx="1.2" fill="#c9c6c1" stroke="#96938e" stroke-width="0.6"/>
<rect x="460.00" y="234.95" width="1.10" height="10.20" fill="#807c78" />
<rect x="404.50" y="228.80" width="50.00" height="22.50" fill="#bbaa8b" stroke="#9d8e78" stroke-width="0.6"/>
<text x="367.00" y="209.30" font-family="'Liberation Serif',serif" font-size="9" fill="#6d6965" textLength="120.50" lengthAdjust="spacingAndGlyphs">EXTENDED COVERED PATIO</text>
<text x="408.00" y="218.00" font-family="'Liberation Sans',sans-serif" font-size="7.0" fill="#3d3a38" stroke="#3d3a38" stroke-width="0.22" textLength="39.00" lengthAdjust="spacingAndGlyphs">29'-0" x 8'-6"</text>
<line x1="290.00" y1="300.50" x2="406.50" y2="300.50" stroke="#a19d99" stroke-width="0.6"/>
<line x1="290.00" y1="302.10" x2="406.50" y2="302.10" stroke="#a19d99" stroke-width="0.6"/>
<line x1="305.00" y1="300.60" x2="406.50" y2="300.60" stroke="#6f6b67" stroke-width="0.8"/>
<rect x="281.30" y="300.00" width="8.70" height="2.50" fill="#4b4745" />
<rect x="406.30" y="300.00" width="10.00" height="2.50" fill="#4b4745" />
<rect x="413.80" y="300.00" width="2.50" height="22.00" fill="#4b4745" />
<line x1="308.80" y1="321.00" x2="331.20" y2="321.00" stroke="#827e7a" stroke-width="1.0"/>
<text x="320.80" y="312.00" font-family="'Liberation Serif',serif" font-size="9" fill="#6d6965" textLength="83.70" lengthAdjust="spacingAndGlyphs">GATHERING ROOM</text>
<text x="341.30" y="320.40" font-family="'Liberation Sans',sans-serif" font-size="7.0" fill="#3d3a38" stroke="#3d3a38" stroke-width="0.22" textLength="43.20" lengthAdjust="spacingAndGlyphs">18'-6" x 14'-0"</text>
<line x1="285.60" y1="369.60" x2="420.60" y2="369.60" stroke="#827e7a" stroke-width="0.6"/>
<line x1="285.60" y1="369.60" x2="285.60" y2="435.00" stroke="#827e7a" stroke-width="0.6"/>
<line x1="420.60" y1="369.60" x2="420.60" y2="432.00" stroke="#827e7a" stroke-width="0.6"/>
<rect x="276.30" y="431.40" width="144.70" height="2.00" fill="#e9e7e2" stroke="#9c9894" stroke-width="0.5" />
<rect x="276.30" y="431.50" width="22.40" height="1.80" fill="#4b4745" />
<rect x="317.60" y="431.50" width="17.80" height="1.80" fill="#4b4745" />
<rect x="406.20" y="431.50" width="14.80" height="1.80" fill="#4b4745" />
<rect x="357.50" y="431.50" width="2.10" height="1.80" fill="#4b4745" />
<rect x="382.40" y="431.50" width="2.20" height="1.80" fill="#4b4745" />
<rect x="341.10" y="393.70" width="10.6" height="8" rx="1.2" fill="#c9c6c1" stroke="#96938e" stroke-width="0.6"/>
<rect x="341.40" y="393.50" width="10.00" height="1.10" fill="#807c78" />
<rect x="341.10" y="418.90" width="10.6" height="8" rx="1.2" fill="#c9c6c1" stroke="#96938e" stroke-width="0.6"/>
<rect x="341.40" y="426.00" width="10.00" height="1.10" fill="#807c78" />
<rect x="355.80" y="393.70" width="10.6" height="8" rx="1.2" fill="#c9c6c1" stroke="#96938e" stroke-width="0.6"/>
<rect x="356.10" y="393.50" width="10.00" height="1.10" fill="#807c78" />
<rect x="355.80" y="418.90" width="10.6" height="8" rx="1.2" fill="#c9c6c1" stroke="#96938e" stroke-width="0.6"/>
<rect x="356.10" y="426.00" width="10.00" height="1.10" fill="#807c78" />
<rect x="329.10" y="404.90" width="8" height="10.8" rx="1.2" fill="#c9c6c1" stroke="#96938e" stroke-width="0.6"/>
<rect x="328.90" y="405.20" width="1.10" height="10.20" fill="#807c78" />
<rect x="370.40" y="404.90" width="8" height="10.8" rx="1.2" fill="#c9c6c1" stroke="#96938e" stroke-width="0.6"/>
<rect x="377.50" y="405.20" width="1.10" height="10.20" fill="#807c78" />
<rect x="335.50" y="399.30" width="36.50" height="22.00" fill="#bbaa8b" stroke="#9d8e78" stroke-width="0.6"/>
<text x="315.00" y="383.20" font-family="'Liberation Serif',serif" font-size="9" fill="#6d6965" textLength="84.50" lengthAdjust="spacingAndGlyphs">UNCOVERED PATIO</text>
<text x="337.50" y="391.70" font-family="'Liberation Sans',sans-serif" font-size="7.0" fill="#3d3a38" stroke="#3d3a38" stroke-width="0.22" textLength="40.00" lengthAdjust="spacingAndGlyphs">18'-8" x 8'-6"</text>
<line x1="284.80" y1="464.35" x2="419.00" y2="464.35" stroke="#827e7a" stroke-width="0.6"/>
<line x1="284.80" y1="463.75" x2="284.80" y2="525.30" stroke="#827e7a" stroke-width="0.6"/>
<line x1="419.00" y1="463.75" x2="419.00" y2="525.30" stroke="#827e7a" stroke-width="0.6"/>
<line x1="287.50" y1="466.75" x2="416.30" y2="466.75" stroke="#76726e" stroke-width="0.65" stroke-dasharray="4.2 1.4"/>
<line x1="287.50" y1="466.75" x2="287.50" y2="525.30" stroke="#76726e" stroke-width="0.65" stroke-dasharray="4.2 1.4"/>
<line x1="416.30" y1="466.75" x2="416.30" y2="525.30" stroke="#76726e" stroke-width="0.65" stroke-dasharray="4.2 1.4"/>
<rect x="284.30" y="463.75" width="3.20" height="3.20" fill="#4b4745" />
<rect x="350.00" y="463.75" width="3.20" height="3.20" fill="#4b4745" />
<rect x="416.30" y="463.75" width="3.20" height="3.20" fill="#4b4745" />
<rect x="280.80" y="525.20" width="16.70" height="1.90" fill="#e9e7e2" stroke="#9c9894" stroke-width="0.5" />
<rect x="317.50" y="525.20" width="102.00" height="1.90" fill="#e9e7e2" stroke="#9c9894" stroke-width="0.5" />
<rect x="280.80" y="525.30" width="16.70" height="1.70" fill="#4b4745" />
<rect x="317.50" y="525.30" width="16.30" height="1.70" fill="#4b4745" />
<rect x="405.30" y="525.30" width="14.20" height="1.70" fill="#4b4745" />
<rect x="356.00" y="525.30" width="2.60" height="1.70" fill="#4b4745" />
<rect x="380.50" y="525.30" width="2.40" height="1.70" fill="#4b4745" />
<rect x="338.90" y="487.40" width="10.6" height="8" rx="1.2" fill="#c9c6c1" stroke="#96938e" stroke-width="0.6"/>
<rect x="339.20" y="487.20" width="10.00" height="1.10" fill="#807c78" />
<rect x="338.90" y="512.10" width="10.6" height="8" rx="1.2" fill="#c9c6c1" stroke="#96938e" stroke-width="0.6"/>
<rect x="339.20" y="519.20" width="10.00" height="1.10" fill="#807c78" />
<rect x="353.60" y="487.40" width="10.6" height="8" rx="1.2" fill="#c9c6c1" stroke="#96938e" stroke-width="0.6"/>
<rect x="353.90" y="487.20" width="10.00" height="1.10" fill="#807c78" />
<rect x="353.60" y="512.10" width="10.6" height="8" rx="1.2" fill="#c9c6c1" stroke="#96938e" stroke-width="0.6"/>
<rect x="353.90" y="519.20" width="10.00" height="1.10" fill="#807c78" />
<rect x="326.90" y="498.35" width="8" height="10.8" rx="1.2" fill="#c9c6c1" stroke="#96938e" stroke-width="0.6"/>
<rect x="326.70" y="498.65" width="1.10" height="10.20" fill="#807c78" />
<rect x="368.40" y="498.35" width="8" height="10.8" rx="1.2" fill="#c9c6c1" stroke="#96938e" stroke-width="0.6"/>
<rect x="375.50" y="498.65" width="1.10" height="10.20" fill="#807c78" />
<rect x="333.30" y="493.00" width="36.70" height="21.50" fill="#bbaa8b" stroke="#9d8e78" stroke-width="0.6"/>
<text x="317.50" y="476.20" font-family="'Liberation Serif',serif" font-size="9" fill="#6d6965" textLength="71.30" lengthAdjust="spacingAndGlyphs">COVERED PATIO</text>
<text x="333.80" y="483.70" font-family="'Liberation Sans',sans-serif" font-size="7.0" fill="#3d3a38" stroke="#3d3a38" stroke-width="0.22" textLength="40.00" lengthAdjust="spacingAndGlyphs">18'-8" x 8'-6"</text>
<line x1="463.10" y1="320.60" x2="597.50" y2="320.60" stroke="#827e7a" stroke-width="0.6"/>
<line x1="463.10" y1="320.00" x2="463.10" y2="406.60" stroke="#827e7a" stroke-width="0.6"/>
<line x1="597.50" y1="320.00" x2="597.50" y2="406.60" stroke="#827e7a" stroke-width="0.6"/>
<line x1="465.80" y1="323.00" x2="594.80" y2="323.00" stroke="#76726e" stroke-width="0.65" stroke-dasharray="4.2 1.4"/>
<line x1="465.80" y1="323.00" x2="465.80" y2="406.60" stroke="#76726e" stroke-width="0.65" stroke-dasharray="4.2 1.4"/>
<line x1="594.80" y1="323.00" x2="594.80" y2="406.60" stroke="#76726e" stroke-width="0.65" stroke-dasharray="4.2 1.4"/>
<rect x="462.60" y="320.00" width="3.20" height="3.20" fill="#4b4745" />
<rect x="528.80" y="320.00" width="3.20" height="3.20" fill="#4b4745" />
<rect x="594.80" y="320.00" width="3.20" height="3.20" fill="#4b4745" />
<rect x="456.30" y="406.50" width="18.70" height="1.80" fill="#e9e7e2" stroke="#9c9894" stroke-width="0.5" />
<rect x="496.30" y="406.50" width="101.70" height="1.80" fill="#e9e7e2" stroke="#9c9894" stroke-width="0.5" />
<rect x="456.30" y="406.60" width="18.70" height="1.60" fill="#4b4745" />
<rect x="496.30" y="406.60" width="16.20" height="1.60" fill="#4b4745" />
<rect x="583.80" y="406.60" width="14.20" height="1.60" fill="#4b4745" />
<rect x="534.50" y="406.60" width="2.40" height="1.60" fill="#4b4745" />
<rect x="558.80" y="406.60" width="2.80" height="1.60" fill="#4b4745" />
<rect x="462.60" y="406.60" width="1.90" height="4.50" fill="#4b4745" />
<rect x="596.10" y="406.60" width="1.90" height="4.50" fill="#4b4745" />
<line x1="476.00" y1="409.30" x2="481.00" y2="412.00" stroke="#827e7a" stroke-width="0.6"/>
<rect x="518.10" y="348.90" width="10.6" height="8" rx="1.2" fill="#c9c6c1" stroke="#96938e" stroke-width="0.6"/>
<rect x="518.40" y="348.70" width="10.00" height="1.10" fill="#807c78" />
<rect x="518.10" y="374.60" width="10.6" height="8" rx="1.2" fill="#c9c6c1" stroke="#96938e" stroke-width="0.6"/>
<rect x="518.40" y="381.70" width="10.00" height="1.10" fill="#807c78" />
<rect x="532.80" y="348.90" width="10.6" height="8" rx="1.2" fill="#c9c6c1" stroke="#96938e" stroke-width="0.6"/>
<rect x="533.10" y="348.70" width="10.00" height="1.10" fill="#807c78" />
<rect x="532.80" y="374.60" width="10.6" height="8" rx="1.2" fill="#c9c6c1" stroke="#96938e" stroke-width="0.6"/>
<rect x="533.10" y="381.70" width="10.00" height="1.10" fill="#807c78" />
<rect x="506.10" y="360.35" width="8" height="10.8" rx="1.2" fill="#c9c6c1" stroke="#96938e" stroke-width="0.6"/>
<rect x="505.90" y="360.65" width="1.10" height="10.20" fill="#807c78" />
<rect x="547.20" y="360.35" width="8" height="10.8" rx="1.2" fill="#c9c6c1" stroke="#96938e" stroke-width="0.6"/>
<rect x="554.30" y="360.65" width="1.10" height="10.20" fill="#807c78" />
<rect x="512.50" y="354.50" width="36.30" height="22.50" fill="#bbaa8b" stroke="#9d8e78" stroke-width="0.6"/>
<text x="492.00" y="331.40" font-family="'Liberation Serif',serif" font-size="9" fill="#6d6965" textLength="71.00" lengthAdjust="spacingAndGlyphs">COVERED PATIO</text>
<text x="506.30" y="339.70" font-family="'Liberation Sans',sans-serif" font-size="7.0" fill="#3d3a38" stroke="#3d3a38" stroke-width="0.22" textLength="43.70" lengthAdjust="spacingAndGlyphs">18'-8" x 12'-0"</text>
<line x1="475.00" y1="458.00" x2="475.00" y2="558.80" stroke="#827e7a" stroke-width="0.55"/>
<line x1="503.80" y1="458.00" x2="503.80" y2="558.80" stroke="#827e7a" stroke-width="0.55"/>
<line x1="508.80" y1="458.00" x2="508.80" y2="558.80" stroke="#827e7a" stroke-width="0.55"/>
<line x1="558.80" y1="458.00" x2="558.80" y2="558.80" stroke="#827e7a" stroke-width="0.55"/>
<line x1="563.80" y1="458.00" x2="563.80" y2="558.80" stroke="#827e7a" stroke-width="0.55"/>
<line x1="591.30" y1="458.00" x2="591.30" y2="558.80" stroke="#827e7a" stroke-width="0.55"/>
<line x1="470.00" y1="458.00" x2="470.00" y2="558.80" stroke="#827e7a" stroke-width="0.6"/>
<line x1="470.00" y1="558.90" x2="589.50" y2="558.90" stroke="#76726e" stroke-width="0.65" stroke-dasharray="4.2 1.4"/>
<path d="M476.6 458 L490.5 471.5 Q495.5 466 496.2 458" fill="none" stroke="#827e7a" stroke-width="0.7" />
<rect x="491.30" y="476.30" width="22.00" height="38.20" fill="#bfbcb7" stroke="#8d8a85" stroke-width="0.7" />
<rect x="495.40" y="478.40" width="17.00" height="16.60" fill="#cbc8c3" stroke="#918e89" stroke-width="0.6" />
<rect x="495.40" y="495.90" width="17.00" height="16.50" fill="#cbc8c3" stroke="#918e89" stroke-width="0.6" />
<rect x="522.00" y="486.50" width="36.80" height="18.50" fill="#817972" />
<rect x="514.50" y="515.80" width="51.80" height="22.20" fill="#bfbcb7" stroke="#8d8a85" stroke-width="0.7" />
<rect x="517.60" y="516.80" width="14.70" height="17.50" fill="#cbc8c3" stroke="#918e89" stroke-width="0.6" />
<rect x="533.10" y="516.80" width="14.70" height="17.50" fill="#cbc8c3" stroke="#918e89" stroke-width="0.6" />
<rect x="548.60" y="516.80" width="14.70" height="17.50" fill="#cbc8c3" stroke="#918e89" stroke-width="0.6" />
<rect x="493.80" y="518.80" width="17.00" height="17.00" fill="#817972" />
<circle cx="502.30" cy="527.30" r="2.60" fill="#8c847c" stroke="#655e58" stroke-width="0.4"/>
<rect x="570.00" y="518.80" width="17.00" height="17.00" fill="#817972" />
<circle cx="578.50" cy="527.30" r="2.60" fill="#8c847c" stroke="#655e58" stroke-width="0.4"/>
<rect x="585.90" y="478.20" width="10.30" height="36.20" fill="#c2b195" stroke="#9d8e78" stroke-width="0.6" />
<line x1="461.30" y1="456.00" x2="598.80" y2="456.00" stroke="#827e7a" stroke-width="0.5"/>
<line x1="461.30" y1="457.60" x2="598.80" y2="457.60" stroke="#827e7a" stroke-width="0.5"/>
<rect x="461.30" y="455.50" width="15.00" height="2.50" fill="#4b4745" />
<rect x="496.30" y="455.50" width="16.20" height="2.50" fill="#4b4745" />
<rect x="535.00" y="455.50" width="2.50" height="2.50" fill="#4b4745" />
<rect x="559.30" y="455.50" width="2.50" height="2.50" fill="#4b4745" />
<rect x="583.80" y="455.50" width="15.50" height="2.50" fill="#4b4745" />
<rect x="462.20" y="455.50" width="2.70" height="80.80" fill="#4b4745" />
<rect x="461.30" y="534.30" width="3.70" height="2.50" fill="#4b4745" />
<rect x="461.30" y="558.80" width="8.70" height="3.00" fill="#4b4745" />
<rect x="596.30" y="455.50" width="3.00" height="107.00" fill="#4b4745" />
<rect x="589.50" y="558.80" width="9.80" height="3.70" fill="#4b4745" />
<text x="503.30" y="470.00" font-family="'Liberation Serif',serif" font-size="9" fill="#6d6965" textLength="83.70" lengthAdjust="spacingAndGlyphs">GATHERING ROOM</text>
<text x="523.80" y="478.00" font-family="'Liberation Sans',sans-serif" font-size="7.0" fill="#3d3a38" stroke="#3d3a38" stroke-width="0.22" textLength="43.70" lengthAdjust="spacingAndGlyphs">18'-1" x 14'-0"</text>
<text x="9.5" y="609.9" font-family="'Liberation Serif',serif" font-size="5.6" fill="#77736f" textLength="81" lengthAdjust="spacingAndGlyphs">BTZ -2088.100.01_10/31/2019</text>
</svg>
<div class="lb" style="left:42.75px;top:233px;font-size:13.8px;line-height:15px;letter-spacing:0.713px">Opt. Bed/Bath</div>
<div class="lb" style="left:62.25px;top:250px;font-size:13.8px;line-height:15px;letter-spacing:0.050px">ILO Flex</div>
<div class="lb" style="left:159.75px;top:199px;font-size:13.8px;line-height:15px;letter-spacing:0.961px">Opt. Appliance</div>
<div class="lb" style="left:174.25px;top:216px;font-size:13.8px;line-height:15px;letter-spacing:0.973px">Package 3</div>
<div class="lb" style="left:45.25px;top:375px;font-size:13.8px;line-height:15px;letter-spacing:0.248px">Opt. Study ILO</div>
<div class="lb" style="left:78.50px;top:392px;font-size:13.8px;line-height:15px;letter-spacing:0.060px">Flex</div>
<div class="lb" style="left:158.50px;top:311px;font-size:13.8px;line-height:15px;letter-spacing:0.453px">Opt. Drop Zone</div>
<div class="lb" style="left:174.50px;top:328px;font-size:13.8px;line-height:15px;letter-spacing:0.579px"><span class="at">@</span> Laundry</div>
<div class="lb" style="left:43.50px;top:517px;font-size:13.8px;line-height:15px;letter-spacing:0.342px">Opt. Barn Door</div>
<div class="lb" style="left:66.50px;top:534px;font-size:13.8px;line-height:15px;letter-spacing:0.285px"><span class="at">@</span> Study</div>
<div class="lb" style="left:160.25px;top:413px;font-size:13.8px;line-height:15px;letter-spacing:0.598px">Opt. Cabinet <span class="at">@</span></div>
<div class="lb" style="left:183.00px;top:430px;font-size:13.8px;line-height:15px;letter-spacing:0.522px">Laundry</div>
<div class="lb" style="left:169.00px;top:520px;font-size:13.8px;line-height:15px;letter-spacing:0.224px">Opt. Sink <span class="at">@</span></div>
<div class="lb" style="left:178.00px;top:537px;font-size:13.8px;line-height:15px;letter-spacing:0.522px">Laundry</div>
<div class="lb" style="left:125.25px;top:611px;font-size:13.8px;line-height:15px;letter-spacing:0.155px">Opt. Under Stair Unit 1</div>
<div class="lb" style="left:285.25px;top:608px;font-size:13.8px;line-height:15px;letter-spacing:0.166px">Opt. Under Stair Unit 2</div>
<div class="lb" style="left:330.25px;top:176px;font-size:13.8px;line-height:15px;letter-spacing:0.596px">Opt. Extended Covered Patio</div>
<div class="lb" style="left:297.75px;top:268px;font-size:13.8px;line-height:15px;letter-spacing:0.644px">Opt. Alternate Extended Covered Patio</div>
<div class="lb" style="left:274.75px;top:325px;font-size:13.8px;line-height:15px;letter-spacing:0.366px">Opt. Sliding Glass Door</div>
<div class="lb" style="left:288.25px;top:342px;font-size:13.8px;line-height:15px;letter-spacing:0.700px"><span class="at">@</span> Gathering Room</div>
<div class="lb" style="left:271.75px;top:440px;font-size:13.8px;line-height:15px;letter-spacing:0.550px">Opt. Uncovered Patio 2</div>
<div class="lb" style="left:252.75px;top:535px;font-size:13.8px;line-height:15px;letter-spacing:0.623px">Opt. Alternate Covered Patio</div>
<div class="lb" style="left:464.75px;top:416px;font-size:13.8px;line-height:15px;letter-spacing:0.626px">Opt. Covered Patio</div>
<div class="lb" style="left:468.50px;top:569px;font-size:13.8px;line-height:15px;letter-spacing:0.566px">Opt. Ceiling Beams</div>
<div class="lb" style="left:470.00px;top:586px;font-size:13.8px;line-height:15px;letter-spacing:0.717px"><span class="at">@</span> Gathering Room</div>
<div class="lb ttl" style="left:256.75px;top:23px;font-size:36px;line-height:40px;letter-spacing:1.088px">Nelson</div>
</div>
</body>
</html>
